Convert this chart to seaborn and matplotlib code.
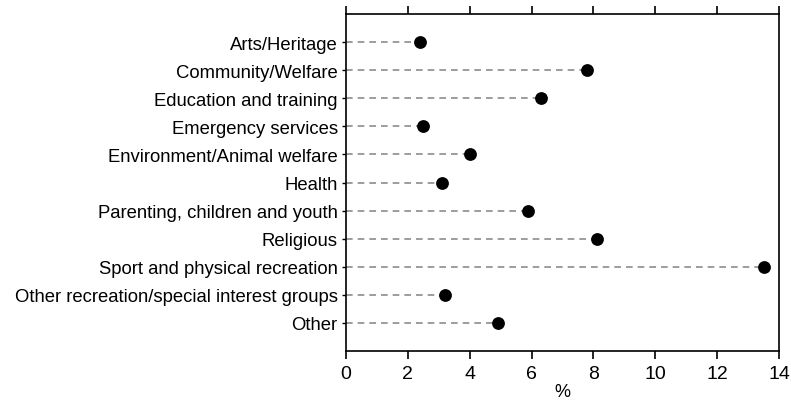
import matplotlib
matplotlib.use("Agg")
import matplotlib.pyplot as plt
import seaborn as sns
import pandas as pd

categories = [
    "Arts/Heritage",
    "Community/Welfare",
    "Education and training",
    "Emergency services",
    "Environment/Animal welfare",
    "Health",
    "Parenting, children and youth",
    "Religious",
    "Sport and physical recreation",
    "Other recreation/special interest groups",
    "Other",
]
values = [2.4, 7.8, 6.3, 2.5, 4.0, 3.1, 5.9, 8.1, 13.5, 3.2, 4.9]
x_ticks = [0, 2, 4, 6, 8, 10, 12, 14]

df = pd.DataFrame({"category": categories, "value": values})

sns.set_style("white")
plt.rcParams["font.family"] = ["Liberation Sans", "DejaVu Sans"]
plt.rcParams["text.color"] = "black"
plt.rcParams["xtick.color"] = "black"
plt.rcParams["ytick.color"] = "black"
plt.rcParams["axes.labelcolor"] = "black"

fig = plt.figure(figsize=(7.91, 4.06), dpi=100)
ax = fig.add_axes([346 / 791, 1 - 352 / 406, (779 - 346) / 791, (352 - 15) / 406])

ypos = list(range(len(categories)))
ax.hlines(ypos, 0, df["value"], colors="#8c8c8c", linestyles=(0, (4, 3)), linewidth=1.2, zorder=1)
sns.scatterplot(data=df, x="value", y="category", ax=ax, color="black", s=85,
                edgecolor="black", linewidth=0, zorder=3, legend=False)

ax.set_xlim(0, 14)
ax.set_ylim(len(categories), -1)
ax.set_xticks(x_ticks)
ax.set_xticklabels([str(t) for t in x_ticks], fontsize=14)
ax.set_yticks(ypos)
ax.set_yticklabels(categories, fontsize=13.3)
ax.set_xlabel("%", fontsize=13, labelpad=1)
ax.set_ylabel("")

for s in ax.spines.values():
    s.set_visible(True)
    s.set_color("black")
    s.set_linewidth(1.2)

ax.tick_params(axis="x", which="both", direction="out", length=6, width=1.2,
               top=True, bottom=True, labeltop=False, pad=4)
ax.tick_params(axis="y", which="both", direction="out", length=3, width=1.0,
               left=True, right=False, pad=3)

fig.savefig("out.png", dpi=100)
